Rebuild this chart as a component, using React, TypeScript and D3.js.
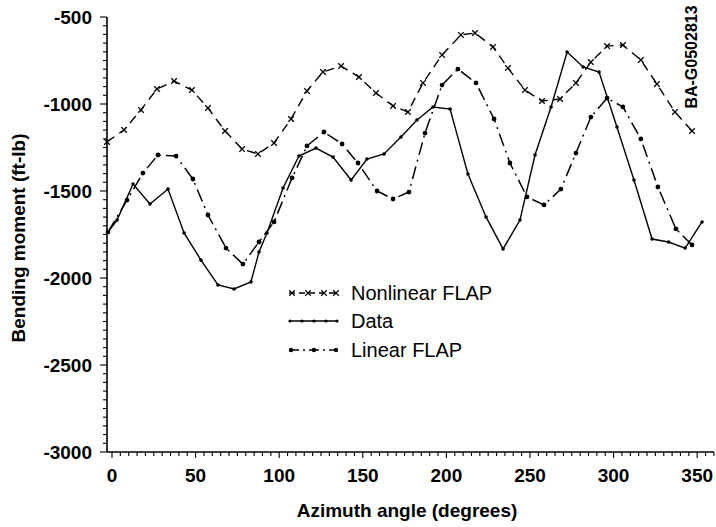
import React from "react";
import * as d3 from "d3";

const dataDeg = [-2.4, 3.0, 12.6, 22.7, 33.5, 43.1, 53.2, 63.4, 73.0, 83.1, 87.9, 92.7, 102.3, 111.8, 122.0, 132.2, 143.0, 152.5, 162.7, 172.8, 182.4, 192.0, 202.2, 212.9, 223.7, 233.9, 244.0, 253.0, 262.6, 272.2, 281.8, 291.3, 302.0, 312.2, 323.0, 332.9, 342.8, 352.9];
const dataVal = [-1736, -1667, -1460, -1575, -1489, -1741, -1897, -2040, -2063, -2023, -1851, -1741, -1483, -1299, -1253, -1305, -1437, -1316, -1287, -1190, -1092, -1017, -1029, -1402, -1649, -1833, -1667, -1293, -1017, -701, -787, -816, -1132, -1437, -1776, -1793, -1828, -1678];

const nonlinDeg = [-3.0, 7.2, 17.3, 26.9, 37.1, 47.8, 57.4, 67.6, 77.8, 87.3, 96.9, 107.1, 116.6, 126.2, 137.0, 147.7, 157.9, 168.1, 177.0, 186.0, 197.4, 208.7, 217.1, 227.9, 236.8, 247.0, 257.2, 268.0, 277.5, 286.4, 296.1, 305.6, 316.3, 325.9, 336.7, 346.9];
const nonlinVal = [-1218, -1149, -1034, -914, -868, -920, -1023, -1155, -1259, -1287, -1224, -1086, -925, -816, -782, -845, -937, -1011, -1046, -879, -718, -603, -592, -672, -793, -920, -983, -971, -879, -759, -667, -661, -747, -885, -1046, -1155];

const linDeg = [-2.4, 9.0, 18.5, 27.5, 38.3, 48.4, 57.4, 68.2, 78.3, 87.9, 96.9, 107.7, 116.6, 126.8, 137.6, 147.1, 158.5, 168.1, 177.6, 187.2, 197.4, 206.9, 217.7, 228.5, 238.0, 248.2, 258.4, 268.5, 277.5, 286.4, 296.1, 305.6, 316.3, 326.5, 337.3, 346.9];
const linVal = [-1736, -1552, -1397, -1293, -1299, -1431, -1638, -1828, -1920, -1793, -1678, -1425, -1241, -1161, -1230, -1339, -1500, -1546, -1506, -1167, -891, -799, -879, -1086, -1339, -1534, -1580, -1489, -1282, -1075, -966, -1017, -1201, -1477, -1718, -1810];

const xTicks = [0, 50, 100, 150, 200, 250, 300, 350];
const yTicks = [-500, -1000, -1500, -2000, -2500, -3000];
const legendLabels = ["Nonlinear FLAP", "Data", "Linear FLAP"];

export default function App() {
  const W = 716, H = 527;
  const x = d3.scaleLinear().domain([0, 360]).range([112, 713.9]);
  const y = d3.scaleLinear().domain([-3000, -500]).range([452, 17]);
  const axisX = 107;
  const axisY = 452;
  const line = d3.line<[number, number]>().x(d => x(d[0])).y(d => y(d[1]));
  const zip = (a: number[], b: number[]) => a.map((v, i) => [v, b[i]] as [number, number]);
  const dataPts = zip(dataDeg, dataVal);
  const nonPts = zip(nonlinDeg, nonlinVal);
  const linPts = zip(linDeg, linVal);
  const timesPath = d3.symbol(d3.symbolTimes, 22)()!;
  const font = "'Liberation Sans', Arial, Helvetica, sans-serif";

  const xMinor = d3.range(0, 361, 5);
  const yMinor = d3.range(-3000, -499, 50);

  const legendY = [293, 321, 350];

  return (
    <svg width={W} height={H} style={{ position: "absolute", left: 0, top: 0, background: "#fff" }} fontFamily={font}>
      <rect width={W} height={H} fill="#fff" />
      {/* axes */}
      <line x1={axisX} x2={axisX} y1={17} y2={axisY} stroke="#000" strokeWidth={1.6} />
      <line x1={axisX} x2={714} y1={axisY} y2={axisY} stroke="#000" strokeWidth={1.6} />
      {xMinor.map(t => (
        <line key={"xm" + t} x1={x(t)} x2={x(t)} y1={axisY} y2={axisY + (t % 50 === 0 ? 6 : 4)} stroke="#000" strokeWidth={1.1} />
      ))}
      {yMinor.map(t => (
        <line key={"ym" + t} x1={axisX - (t % 500 === 0 ? 7 : 4)} x2={axisX} y1={y(t)} y2={y(t)} stroke="#000" strokeWidth={1.1} />
      ))}
      {xTicks.map(t => (
        <text key={"xt" + t} x={x(t)} y={482} textAnchor="middle" fontSize={19} fontWeight="bold">{t}</text>
      ))}
      {yTicks.map(t => (
        <text key={"yt" + t} x={92} y={y(t) + 7} textAnchor="end" fontSize={19} fontWeight="bold">{t}</text>
      ))}
      <text x={407} y={517} textAnchor="middle" fontSize={19} fontWeight="bold">Azimuth angle (degrees)</text>
      <text transform="translate(25,238) rotate(-90)" textAnchor="middle" fontSize={19} fontWeight="bold">Bending moment (ft-lb)</text>
      <text transform="translate(697,57) rotate(-90)" textAnchor="middle" fontSize={16} fontWeight="bold">BA-G0502813</text>

      {/* series */}
      <path d={line(nonPts)!} fill="none" stroke="#000" strokeWidth={1.4} strokeDasharray="9,6" />
      {nonPts.map((p, i) => (
        <path key={"nm" + i} d={timesPath} transform={`translate(${x(p[0])},${y(p[1])})`} stroke="#000" strokeWidth={1.3} fill="none" />
      ))}
      <path d={line(dataPts)!} fill="none" stroke="#000" strokeWidth={1.4} />
      {dataPts.map((p, i) => (
        <circle key={"dm" + i} cx={x(p[0])} cy={y(p[1])} r={1.8} fill="#000" />
      ))}
      <path d={line(linPts)!} fill="none" stroke="#000" strokeWidth={1.5} strokeDasharray="13,5,2,5" />
      {linPts.map((p, i) => (
        <circle key={"lm" + i} cx={x(p[0])} cy={y(p[1])} r={2.4} fill="#000" />
      ))}

      {/* legend */}
      <g>
        <line x1={289} x2={337} y1={legendY[0]} y2={legendY[0]} stroke="#000" strokeWidth={1.3} strokeDasharray="6,4" />
        {[292, 308, 324, 336].map(px => (
          <path key={"ln" + px} d={timesPath} transform={`translate(${px},${legendY[0]})`} stroke="#000" strokeWidth={1.2} fill="none" />
        ))}
        <line x1={289} x2={337} y1={legendY[1]} y2={legendY[1]} stroke="#000" strokeWidth={1.4} />
        {[290, 302, 314, 326, 337].map(px => (
          <circle key={"ld" + px} cx={px} cy={legendY[1]} r={1.6} fill="#000" />
        ))}
        <line x1={289} x2={337} y1={legendY[2]} y2={legendY[2]} stroke="#000" strokeWidth={1.4} strokeDasharray="10,4,2,4" />
        {[291, 314, 336].map(px => (
          <circle key={"ll" + px} cx={px} cy={legendY[2]} r={2.2} fill="#000" />
        ))}
        {legendLabels.map((l, i) => (
          <text key={l} x={351} y={legendY[i] + 7} fontSize={20}>{l}</text>
        ))}
      </g>
    </svg>
  );
}
